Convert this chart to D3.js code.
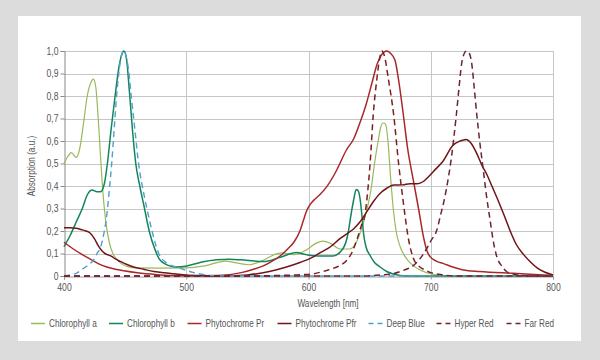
<!DOCTYPE html>
<html>
<head>
<meta charset="utf-8">
<script src="https://cdn.jsdelivr.net/npm/d3@7/dist/d3.min.js"></script>
<style>
  html, body { margin: 0; padding: 0; background: #dcdcdc; }
  svg { display: block; }
  text { font-family: 'Liberation Sans', Arial, sans-serif; fill: #555; }
</style>
</head>
<body>
<svg id="chart" width="600" height="360"></svg>
<script>
// ---------- DATA ----------
const seriesNames = ["Chlorophyll a", "Chlorophyll b", "Phytochrome Pr", "Phytochrome Pfr", "Deep Blue", "Hyper Red", "Far Red"];
const xTicks = [400, 500, 600, 700, 800];
const yTicks = [0, 0.1, 0.2, 0.3, 0.4, 0.5, 0.6, 0.7, 0.8, 0.9, 1.0];
const yTickLabels = ["0", "0,1", "0,2", "0,3", "0,4", "0,5", "0,6", "0,7", "0,8", "0,9", "1,0"];

const chlorophyllA = [[400,0.50],[403,0.53],[406,0.548],[410,0.527],[413,0.57],[416,0.68],[419,0.80],[422,0.86],[424,0.875],[426,0.84],[428,0.70],[430,0.52],[432,0.36],[434,0.25],[437,0.15],[440,0.10],[443,0.075],[447,0.055],[452,0.042],[460,0.036],[480,0.035],[500,0.036],[515,0.045],[532,0.066],[541,0.058],[551,0.05],[563,0.07],[572,0.095],[578,0.103],[588,0.095],[598,0.115],[606,0.145],[612,0.155],[618,0.145],[626,0.12],[634,0.12],[640,0.16],[645,0.24],[648,0.30],[651,0.38],[654,0.50],[657,0.60],[659,0.66],[661,0.68],[663,0.675],[665,0.60],[667,0.45],[669.5,0.29],[672,0.19],[675,0.13],[678,0.095],[682,0.065],[686,0.045],[692,0.025],[698,0.012],[704,0.005],[715,0],[800,0]];

const chlorophyllB = [[400,0.13],[405,0.18],[410,0.24],[415,0.30],[419,0.36],[423,0.382],[427,0.375],[430,0.375],[433,0.41],[435.5,0.5],[438.5,0.65],[441.8,0.8],[445,0.93],[447,0.98],[449,1.0],[451,0.97],[453.5,0.82],[456,0.65],[458.7,0.5],[462,0.40],[465.5,0.31],[469.7,0.2],[474.6,0.115],[478,0.075],[482,0.056],[487,0.044],[492,0.04],[498,0.042],[506,0.052],[514,0.063],[525,0.072],[535,0.075],[549,0.07],[563,0.064],[577,0.083],[590,0.104],[598,0.095],[607,0.089],[620,0.089],[628,0.12],[632,0.18],[635,0.28],[637,0.34],[639,0.385],[640.5,0.38],[642,0.35],[643.5,0.28],[645,0.19],[647,0.13],[650.5,0.09],[654,0.06],[658.5,0.04],[664,0.02],[670,0.008],[680,0],[800,0]];

const phytochromePr = [[400,0.15],[407.6,0.12],[414,0.098],[421.5,0.075],[428,0.055],[435,0.04],[442,0.03],[449,0.023],[460,0.014],[476,0.006],[495,0.001],[510,0],[530,0.003],[545,0.015],[555,0.03],[563,0.045],[570,0.065],[577,0.09],[583,0.12],[588,0.15],[593,0.2],[596,0.25],[598.5,0.29],[601,0.315],[604,0.335],[609,0.36],[615,0.397],[620,0.44],[623,0.47],[631,0.56],[637,0.61],[642,0.68],[647,0.76],[652,0.86],[656,0.94],[660,0.985],[664,1.0],[667,0.99],[670.7,0.96],[674,0.86],[677.5,0.72],[681,0.57],[685.7,0.427],[690,0.3],[694,0.175],[697,0.11],[699.4,0.086],[705,0.065],[710,0.056],[718,0.04],[726.6,0.027],[740,0.02],[767,0.012],[785,0.007],[800,0.002]];

const phytochromePfr = [[400,0.215],[405,0.215],[410,0.212],[415,0.205],[418,0.2],[421.5,0.19],[425,0.165],[428,0.135],[431,0.112],[433.5,0.1],[436,0.094],[439,0.087],[442,0.076],[446,0.065],[451,0.052],[457,0.04],[465,0.03],[473.5,0.02],[482,0.014],[490,0.01],[500,0.005],[515,0.002],[530,0],[550,0.005],[568,0.02],[582,0.04],[593,0.06],[604,0.085],[610,0.105],[618,0.13],[626,0.167],[632,0.19],[637,0.21],[642,0.24],[647.6,0.285],[653,0.33],[658.5,0.367],[664,0.39],[669.5,0.404],[677,0.405],[683,0.41],[689,0.41],[694,0.42],[698,0.44],[704,0.475],[710,0.51],[718,0.58],[724,0.6],[729,0.607],[733,0.59],[737.6,0.545],[742,0.49],[746,0.45],[750,0.40],[754,0.35],[760,0.27],[765,0.2],[770,0.14],[776,0.095],[782,0.06],[787,0.036],[793,0.018],[800,0.005]];

const deepBlue = [[400,0],[405,0.005],[410,0.012],[415,0.03],[420,0.05],[424,0.07],[427,0.10],[430,0.13],[433,0.20],[435,0.27],[437,0.38],[439,0.5],[441,0.65],[443,0.8],[445,0.91],[447,0.98],[449,1.0],[451,0.97],[452.7,0.92],[455,0.8],[458,0.65],[461,0.5],[465.5,0.36],[469,0.27],[472,0.2],[477.5,0.1],[484.5,0.056],[492.6,0.039],[500,0.025],[510,0.01],[520,0.003],[540,0],[800,0]];

const hyperRed = [[400,0],[550,0],[580,0.003],[595,0.006],[604,0.01],[612,0.02],[618,0.03],[625,0.045],[631.4,0.07],[636,0.11],[639.5,0.16],[643,0.22],[646.4,0.28],[648.5,0.38],[650.4,0.5],[653,0.72],[655.8,0.87],[658,0.96],[660,1.0],[662,0.98],[665.5,0.87],[669.6,0.72],[673.7,0.5],[677.5,0.33],[681.6,0.17],[685.7,0.08],[690,0.045],[694,0.03],[700,0.015],[710,0.005],[720,0],[800,0]];

const farRed = [[400,0],[640,0],[655,0.003],[662,0.006],[669,0.01],[676,0.022],[681,0.032],[685.7,0.046],[691,0.075],[696.5,0.12],[700.5,0.16],[704.7,0.2],[708,0.27],[711.5,0.35],[714.5,0.44],[717,0.53],[719,0.62],[721,0.72],[723,0.83],[725.3,0.945],[727.5,0.99],[729.4,1.0],[731.5,0.99],[733.5,0.945],[735.5,0.84],[737.6,0.72],[740,0.6],[743,0.47],[745.5,0.36],[748.5,0.25],[751,0.16],[754,0.086],[758,0.045],[762,0.02],[768,0.008],[775,0.002],[785,0],[800,0]];

const seriesData = [chlorophyllA, chlorophyllB, phytochromePr, phytochromePfr, deepBlue, hyperRed, farRed];

// ---------- STYLE / LAYOUT ----------
const styles = [
  { color: "#9bb85a", width: 1.2, dash: null },
  { color: "#13855a", width: 1.5, dash: null },
  { color: "#a8282a", width: 1.5, dash: null },
  { color: "#701417", width: 1.5, dash: null },
  { color: "#4f9fd0", width: 1.4, dash: "6,4" },
  { color: "#7d1f22", width: 1.5, dash: "6,4" },
  { color: "#6b2432", width: 1.5, dash: "6,4" }
];
const legendX = [31, 109, 187.5, 277.5, 368.5, 436.5, 506.5];
const SX = 0.82; // condensed text

const svg = d3.select("#chart");
svg.append("rect").attr("x", 0).attr("y", 0).attr("width", 600).attr("height", 360).attr("fill", "#dcdcdc");
svg.append("rect").attr("x", 18).attr("y", 16).attr("width", 563).attr("height", 325).attr("fill", "#ffffff");

const plot = { left: 64, right: 553, top: 51, bottom: 276 };
const x = d3.scaleLinear().domain([400, 800]).range([plot.left, plot.right]);
const y = d3.scaleLinear().domain([0, 1]).range([plot.bottom, plot.top]);

function condensed(sel) {
  sel.each(function () {
    const t = d3.select(this);
    const tx = +t.attr("x") || 0;
    t.attr("x", 0).attr("transform", `translate(${tx},0) scale(${SX},1)`);
  });
}

// gridlines
const g = svg.append("g");
g.selectAll("line.h").data(yTicks.slice(1)).enter().append("line")
  .attr("x1", plot.left).attr("x2", plot.right)
  .attr("y1", d => Math.round(y(d)) + 0.5).attr("y2", d => Math.round(y(d)) + 0.5)
  .attr("stroke", "#c6c6c6").attr("stroke-width", 1);
g.selectAll("line.v").data(xTicks.slice(1)).enter().append("line")
  .attr("x1", d => Math.round(x(d)) + 0.5).attr("x2", d => Math.round(x(d)) + 0.5)
  .attr("y1", plot.top).attr("y2", plot.bottom)
  .attr("stroke", "#c6c6c6").attr("stroke-width", 1);

// axes
const yAxis = d3.axisLeft(y).tickValues(yTicks).tickSize(4).tickPadding(2)
  .tickFormat((d, i) => yTickLabels[i]);
const ya = svg.append("g").attr("transform", `translate(${plot.left + 0.5},0)`).call(yAxis);
ya.select(".domain").attr("stroke", "#8a8a8a");
ya.selectAll(".tick line").attr("stroke", "#8a8a8a");
ya.selectAll(".tick text").attr("font-size", 10.5).attr("fill", "#555")
  .style("font-family", "'Liberation Sans', Arial, sans-serif").call(condensed);

const xAxis = d3.axisBottom(x).tickValues(xTicks).tickSize(3).tickPadding(4).tickFormat(d3.format("d"));
const xa = svg.append("g").attr("transform", `translate(0,${plot.bottom + 0.5})`).call(xAxis);
xa.select(".domain").attr("stroke", "#9a9a9a");
xa.selectAll(".tick line").attr("stroke", "#9a9a9a");
xa.selectAll(".tick text").attr("font-size", 10.5).attr("fill", "#555")
  .style("font-family", "'Liberation Sans', Arial, sans-serif").call(condensed);

// titles
svg.append("text").attr("transform", `translate(35,166) rotate(-90) scale(${SX},1)`)
  .attr("text-anchor", "middle").attr("font-size", 10).text("Absorption (a.u.)");
svg.append("text").attr("transform", `translate(328,307) scale(${SX},1)`)
  .attr("text-anchor", "middle").attr("font-size", 10).text("Wavelength [nm]");

// lines
const line = d3.line().x(d => x(d[0])).y(d => y(d[1])).curve(d3.curveMonotoneX);
const lg = svg.append("g");
seriesData.forEach((data, i) => {
  const s = styles[i];
  const p = lg.append("path").datum(data)
    .attr("d", line)
    .attr("fill", "none")
    .attr("stroke", s.color)
    .attr("stroke-width", s.width)
    .attr("stroke-linejoin", "round");
  if (s.dash) p.attr("stroke-dasharray", s.dash);
});

// legend
const leg = svg.append("g");
seriesNames.forEach((name, i) => {
  const s = styles[i];
  const lx = legendX[i];
  const ly = 323.5;
  const l = leg.append("line").attr("x1", lx).attr("x2", lx + 14).attr("y1", ly).attr("y2", ly)
    .attr("stroke", s.color).attr("stroke-width", 1.5);
  if (s.dash) l.attr("stroke-dasharray", "5,4");
  leg.append("text").attr("transform", `translate(${lx + 18},${ly + 3.6}) scale(${SX},1)`)
    .attr("font-size", 10).text(name);
});
</script>
</body>
</html>
